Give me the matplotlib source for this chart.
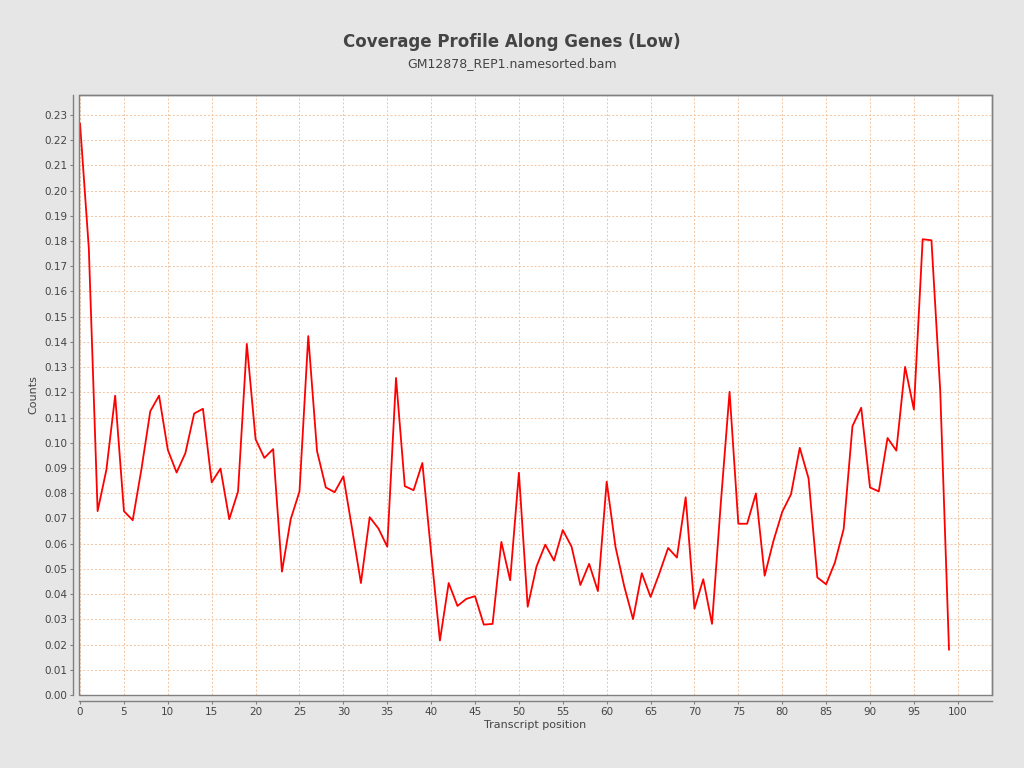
import matplotlib
matplotlib.use("Agg")
import matplotlib.pyplot as plt
from matplotlib.patches import Rectangle
import numpy as np

positions = list(range(100))
counts = [
    0.2265, 0.177, 0.0729, 0.0893, 0.1187, 0.0729, 0.0693, 0.0897, 0.1125, 0.1187,
    0.0972, 0.0882, 0.0959, 0.1116, 0.1135, 0.0843, 0.0898, 0.0697, 0.0807, 0.1392,
    0.1014, 0.0940, 0.0975, 0.0489, 0.0697, 0.0807, 0.1423, 0.0967, 0.0823, 0.0804,
    0.0867, 0.0658, 0.0444, 0.0705, 0.0660, 0.0588, 0.1257, 0.0828, 0.0812, 0.0920,
    0.0564, 0.0216, 0.0444, 0.0353, 0.0381, 0.0392, 0.0279, 0.0282, 0.0607, 0.0455,
    0.0881, 0.0350, 0.0509, 0.0596, 0.0533, 0.0654, 0.0588, 0.0436, 0.0520, 0.0412,
    0.0846, 0.0588, 0.0431, 0.0301, 0.0483, 0.0389, 0.0482, 0.0583, 0.0545, 0.0784,
    0.0342, 0.0459, 0.0282, 0.0760, 0.1202, 0.0679, 0.0679, 0.0799, 0.0473, 0.0611,
    0.0726, 0.0796, 0.0980, 0.0859, 0.0466, 0.0439, 0.0525, 0.0658, 0.1066, 0.1139,
    0.0823, 0.0807, 0.1019, 0.0969, 0.1301, 0.1132, 0.1807, 0.1803, 0.1207, 0.0180,
]
x_ticks = list(range(0, 101, 5))
y_ticks = [round(i * 0.01, 2) for i in range(24)]

title = "Coverage Profile Along Genes (Low)"
subtitle = "GM12878_REP1.namesorted.bam"

bg = "#e6e6e6"
txt = "#444444"
frame = "#808080"
gridc = "#f2c4a0"

fig = plt.figure(figsize=(10.24, 7.68), dpi=100, facecolor=bg)
ax = fig.add_axes([79/1024, 1 - 695/768, (992-79)/1024, (695-95)/768])
ax.set_facecolor("white")

ax.plot(positions, counts, color="#ff0000", linewidth=1.3, zorder=3)

ax.set_xlim(-0.12, 103.9)
ax.set_ylim(0, 0.2379)
ax.set_xticks(x_ticks)
ax.set_yticks(y_ticks)
ax.set_yticklabels([f"{v:.2f}" for v in y_ticks])

ax.grid(True, color=gridc, linestyle=(0, (2, 2)), linewidth=0.7, zorder=1)

for s in ["top", "right"]:
    ax.spines[s].set_color(frame)
    ax.spines[s].set_linewidth(1.0)
for s in ["left", "bottom"]:
    ax.spines[s].set_position(("outward", 4))
    ax.spines[s].set_color(frame)
    ax.spines[s].set_linewidth(1.0)

ax.add_patch(Rectangle((0, 0), 1, 1, transform=ax.transAxes, fill=False,
                       edgecolor=frame, linewidth=1.0, zorder=4, clip_on=False))

ax.tick_params(axis="both", colors=frame, labelcolor=txt, labelsize=7.5,
               length=2.5, width=0.8, direction="out", pad=2)

ax.set_xlabel("Transcript position", fontsize=8, color=txt, labelpad=2)
ax.set_ylabel("Counts", fontsize=8, color=txt, labelpad=4)

fig.text(0.5, 1 - 42/768, title, ha="center", va="center", fontsize=12,
         fontweight="bold", color=txt)
fig.text(0.5, 1 - 64/768, subtitle, ha="center", va="center", fontsize=9,
         color=txt)

fig.savefig("out.png", dpi=100, facecolor=bg)
